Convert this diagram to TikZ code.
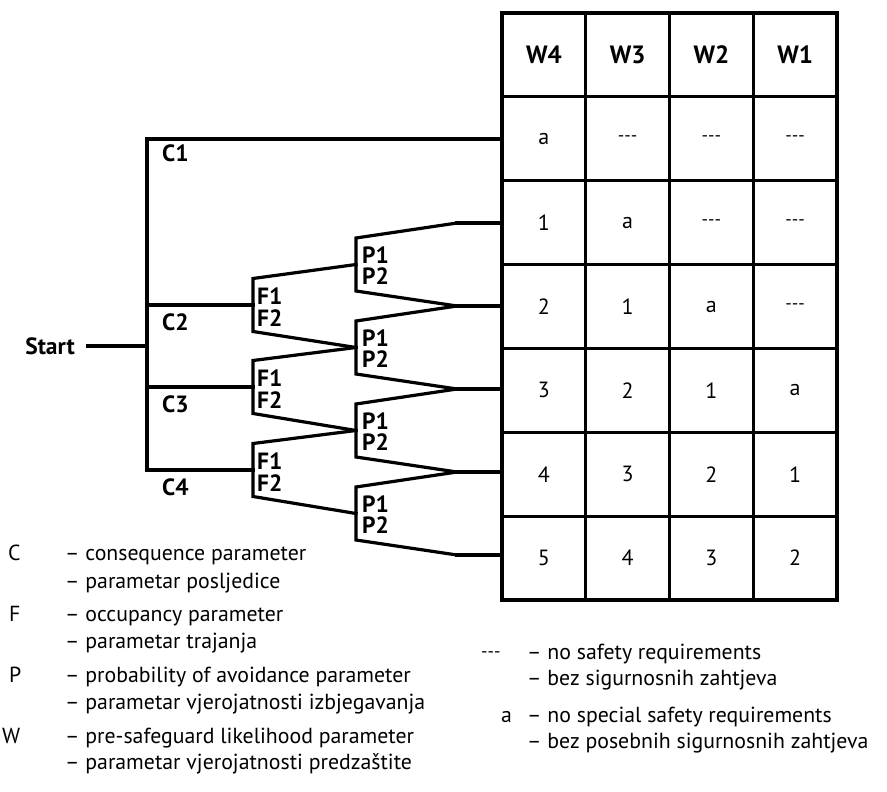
\documentclass[tikz,border=0pt]{standalone}
\usepackage{fontspec}
\setmainfont{PT Sans}
\newcommand\nodash{{\fontsize{18}{18}\selectfont -{}-{}-}}
\begin{document}
\begin{tikzpicture}[x=1pt,y=-1pt,
  ln/.style={line width=3.2pt, line cap=rect, line join=miter},
  tbl/.style={line width=3.2pt, line cap=rect},
  lbl/.style={font=\fontsize{23.5}{26}\selectfont\bfseries, inner sep=0pt, anchor=west},
  hdr/.style={font=\fontsize{25}{28}\selectfont\bfseries, inner sep=0pt},
  cellt/.style={font=\fontsize{22}{26}\selectfont, inner sep=0pt},
  leg/.style={font=\fontsize{21.8}{26}\selectfont, inner sep=0pt, anchor=base west}]
\useasboundingbox (0,0) rectangle (887,792);

% ---------- table ----------
\coordinate (tblL) at (502,13);
\coordinate (tblR) at (837,600);
\draw[tbl] (tblL) rectangle (tblR);
\foreach \i in {1,...,3} \draw[tbl] ({502+83.75*\i},13) -- ({502+83.75*\i},600);
\foreach \j in {1,...,6} \draw[tbl] (502,{13+83.857*\j}) -- (837,{13+83.857*\j});

\foreach \t [count=\c] in {W4,W3,W2,W1}
  \node[hdr] (h\c) at ({502+83.75*(\c-0.5)},55) {\t};

\foreach \r/\row in {1/{a,\nodash,\nodash,\nodash},
                     2/{1,a,\nodash,\nodash},
                     3/{2,1,a,\nodash},
                     4/{3,2,1,a},
                     5/{4,3,2,1},
                     6/{5,4,3,2}}
  \foreach \t [count=\c] in \row
    \node[cellt] (v\r\c) at ({502+83.75*(\c-0.5)},{13+83.857*(\r+0.5)}) {\t};

% ---------- tree ----------
\node[lbl, anchor=east] (start) at (75,346) {Start};
\coordinate (S0) at (88,346);
\coordinate (S) at (147,346);
\coordinate (C1) at (147,139);
\coordinate (C2) at (147,305);
\coordinate (C3) at (147,387);
\coordinate (C4) at (147,470);
\draw[ln] (S0) -- (S);
\draw[ln] (C1 -| tblL) -- (C1) -- (C4);

% F branch points
\foreach \k/\y in {2/305,3/387,4/470}{
  \coordinate (F\k) at (253,\y);
  \coordinate (F\k t) at (253,{\y-26.5});
  \coordinate (F\k b) at (253,{\y+26.5});
}
\draw[ln] (C2) -- (F2);
\draw[ln] (C3) -- (F3);
\draw[ln] (C4) -- (F4);

% P blocks and outputs
\foreach \k/\y in {1/264.5,2/347.5,3/430.5,4/513.5}{
  \coordinate (P\k) at (356,\y);
  \coordinate (P\k t) at (356,{\y-26.5});
  \coordinate (P\k b) at (356,{\y+26.5});
}
\foreach \k/\y in {0/223,1/306,2/389,3/472,4/555}
  \coordinate (o\k) at (457,\y);

\draw[ln] (P1) -- (F2t) -- (F2b) -- (P2);
\draw[ln] (P2) -- (F3t) -- (F3b) -- (P3);
\draw[ln] (P3) -- (F4t) -- (F4b) -- (P4);

\draw[ln] (o0) -- (P1t) -- (P1b) -- (o1);
\draw[ln] (o1) -- (P2t) -- (P2b) -- (o2);
\draw[ln] (o2) -- (P3t) -- (P3b) -- (o3);
\draw[ln] (o3) -- (P4t) -- (P4b) -- (o4);
\foreach \k in {0,...,4} \draw[ln] (o\k) -- (o\k -| tblL);

% labels
\node[lbl] (lc1) at (162,153) {C1};
\node[lbl] (lc2) at (162,322) {C2};
\node[lbl] (lc3) at (162,404) {C3};
\node[lbl] (lc4) at (162,487) {C4};
\foreach \k/\y in {2/305,3/387,4/470}{
  \node[lbl] (lf\k a) at (257,{\y-8.5}) {F1};
  \node[lbl] (lf\k b) at (257,{\y+13}) {F2};
}
\foreach \k/\y in {1/264.5,2/347.5,3/430.5,4/513.5}{
  \node[lbl] (lp\k a) at (362,{\y-9.5}) {P1};
  \node[lbl] (lp\k b) at (362,{\y+12}) {P2};
}

% ---------- legend left ----------
\node[leg] (kC)  at (8,560) {C};
\node[leg] (kC1) at (65,560) {– consequence parameter};
\node[leg] (kC2) at (65,588) {– parametar posljedice};
\node[leg] (kF)  at (9,621) {F};
\node[leg] (kF1) at (65,621) {– occupancy parameter};
\node[leg] (kF2) at (65,648) {– parametar trajanja};
\node[leg] (kP)  at (9,682) {P};
\node[leg] (kP1) at (65,682) {– probability of avoidance parameter};
\node[leg] (kP2) at (65,709) {– parametar vjerojatnosti izbjegavanja};
\node[leg] (kW)  at (2,743) {W};
\node[leg] (kW1) at (65,743) {– pre-safeguard likelihood parameter};
\node[leg] (kW2) at (65,769) {– parametar vjerojatnosti predzaštite};

% ---------- legend right ----------
\node[leg] (kN)  at (481,657) {\nodash};
\node[leg] (kN1) at (527,659) {– no safety requirements};
\node[leg] (kN2) at (527,685) {– bez sigurnosnih zahtjeva};
\node[leg] (kA)  at (501,722) {a};
\node[leg] (kA1) at (527,722) {– no special safety requirements};
\node[leg] (kA2) at (527,748) {– bez posebnih sigurnosnih zahtjeva};
\end{tikzpicture}
\end{document}
